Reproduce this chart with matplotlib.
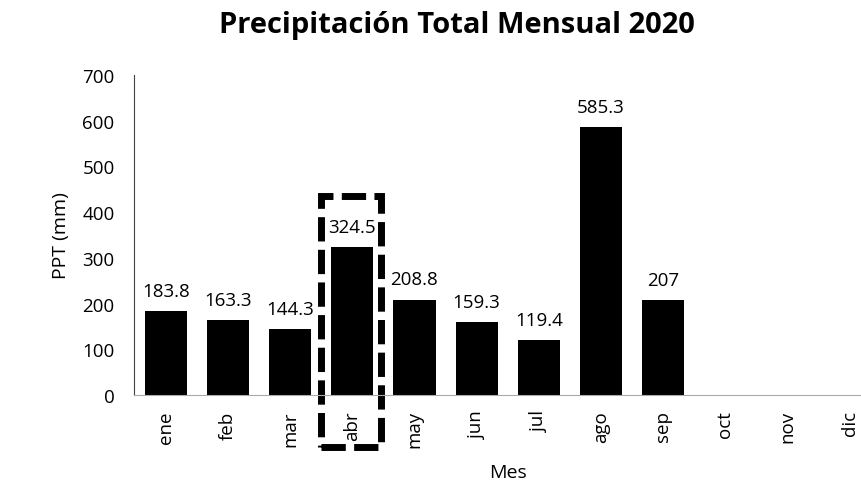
import matplotlib.pyplot as plt
from matplotlib.patches import Rectangle

meses = ['ene', 'feb', 'mar', 'abr', 'may', 'jun', 'jul', 'ago', 'sep', 'oct', 'nov', 'dic']
ppt = [183.8, 163.3, 144.3, 324.5, 208.8, 159.3, 119.4, 585.3, 207, 0, 0, 0]
etiquetas = ['183.8', '163.3', '144.3', '324.5', '208.8', '159.3', '119.4', '585.3', '207', '', '', '']
yticks = [0, 100, 200, 300, 400, 500, 600, 700]

plt.rcParams['font.family'] = ['Open Sans', 'DejaVu Sans']

fig = plt.figure(figsize=(8.61, 4.85), dpi=100)
ax = fig.add_axes([0.1556, 0.1835, 0.8444, 0.660])

x = list(range(len(meses)))
ax.bar(x, ppt, width=0.68, color='black')

for xi, v, t in zip(x, ppt, etiquetas):
    if t:
        ax.annotate(t, (xi, v), xytext=(0, 8), textcoords='offset points',
                    ha='center', va='bottom', fontsize=13.5)

ax.set_xlim(-0.51, 11.18)
ax.set_ylim(0, 700)
ax.set_yticks(yticks)
ax.set_xticks(x)
ax.set_xticklabels(meses, rotation=90, fontsize=13.5)
ax.tick_params(axis='y', labelsize=13.5, length=0, pad=14)
ax.tick_params(axis='x', length=0, pad=11)

ax.spines['top'].set_visible(False)
ax.spines['right'].set_visible(False)
ax.spines['left'].set_color('#444444')
ax.spines['bottom'].set_color('#aaaaaa')

# recuadro resaltando abril
caja = Rectangle((2.5, -114), 0.97, 550, fill=False, edgecolor='black',
                 linewidth=5, linestyle=(0, (3.5, 1.2)), clip_on=False)
ax.add_patch(caja)

ax.set_ylabel('PPT (mm)', fontsize=14)
ax.yaxis.set_label_coords(-0.088, 0.5)
ax.set_xlabel('Mes', fontsize=14, va='center')
ax.xaxis.set_label_coords(0.514, -0.24)
fig.text(0.531, 0.932, 'Precipitación Total Mensual 2020', fontsize=21,
         fontweight='bold', ha='center', va='baseline')

fig.savefig('out.png', dpi=100)
